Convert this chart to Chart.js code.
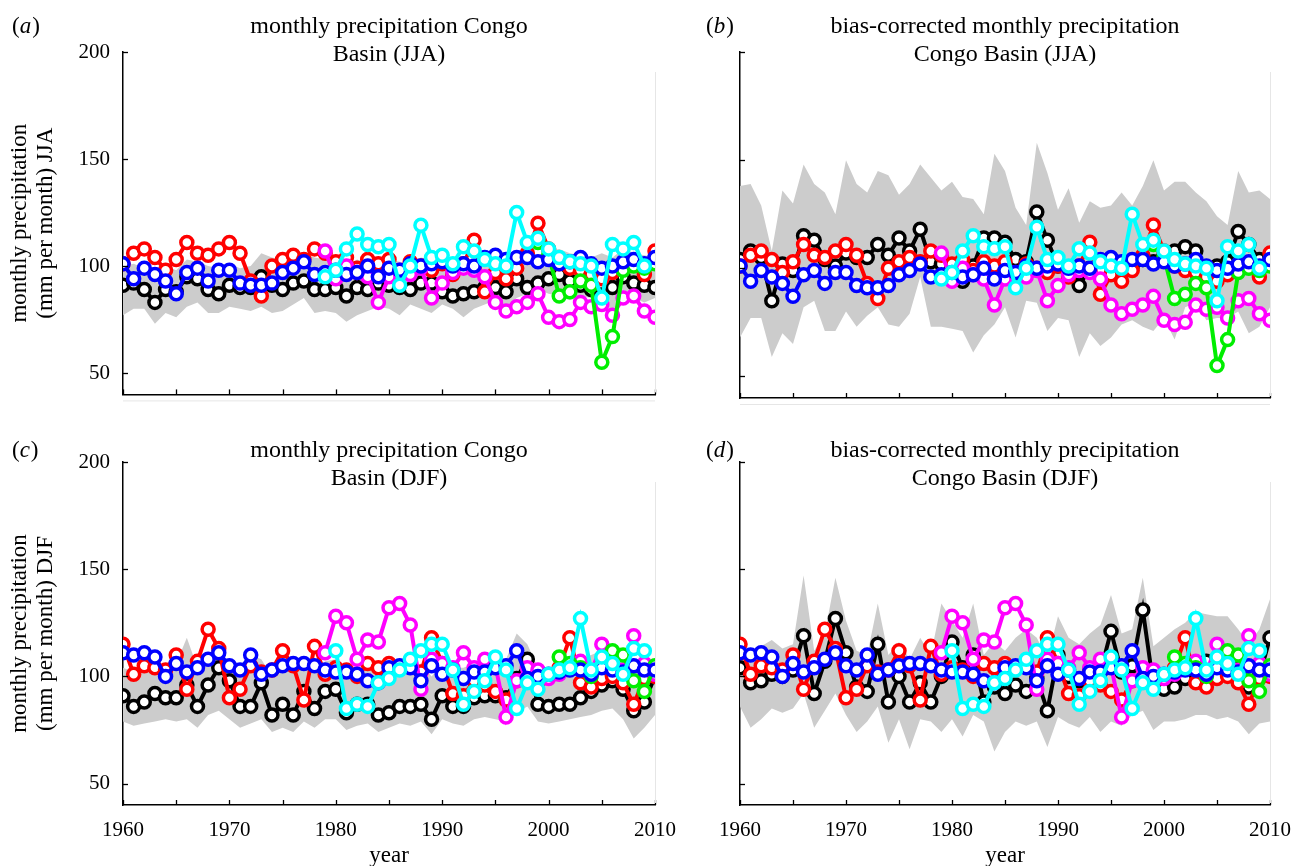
<!DOCTYPE html>
<html>
<head>
<meta charset="utf-8">
<script src="https://cdn.jsdelivr.net/npm/chart.js@4.4.1/dist/chart.umd.min.js"></script>
<style>
  body { margin: 0; background: #fff; width: 1295px; height: 866px; position: relative; overflow: hidden; }
  canvas { position: absolute; }
</style>
</head>
<body>
<canvas id="pa" width="690" height="420" style="left:0;top:0"></canvas>
<canvas id="pb" width="625" height="420" style="left:690px;top:0"></canvas>
<canvas id="pc" width="690" height="446" style="left:0;top:420px"></canvas>
<canvas id="pd" width="625" height="446" style="left:690px;top:420px"></canvas>
<script>
const years = [1960,1961,1962,1963,1964,1965,1966,1967,1968,1969,1970,1971,1972,1973,1974,1975,1976,1977,1978,1979,
  1980,1981,1982,1983,1984,1985,1986,1987,1988,1989,1990,1991,1992,1993,1994,1995,1996,1997,1998,1999,
  2000,2001,2002,2003,2004,2005,2006,2007,2008,2009,2010];
const xLabels = [1960, 1970, 1980, 1990, 2000, 2010];
const xMarks = [1960,1965,1970,1975,1980,1985,1990,1995,2000,2005,2010];
const yTicks = [50, 100, 150, 200];
const _ = null;

// observations, JJA (same in a and b)
const redJJA = [101,106,108,104,98,103,111,106,105,108, 111,106,93,86,100,103,105,103,108,106, 102,104,99,103,101,103,97,102,100,98, 101,96,101,112,88,97,94,99,106,120, 108,101,99,98,96,94,97,99,101,96, 107];
const blueJJA = [101,94,99,96,93,87,97,99,93,98, 98,92,91,91,92,97,99,102,96,97, 98,96,97,100,95,99,98,101,100,101, 102,100,101,100,104,105,103,104,104,102, 103,101,102,104,101,99,100,102,103,101, 104];
const magentaJJA = [_,_,_,_,_,_,_,_,_,_, _,_,_,_,_,_,_,_,_,107, 94,100,97,95,83,95,98,96,99,85, 92,97,99,98,95,83,79,81,83,87, 76,74,75,83,81,82,77,85,86,79, 76];
const cyanJJA = [_,_,_,_,_,_,_,_,_,_, _,_,_,_,_,_,_,_,_,95, 98,108,115,110,109,110,91,100,119,104, 105,101,109,107,103,101,100,125,111,113, 108,104,102,101,100,85,110,108,111,100, _];
const greenJJA = [_,_,_,_,_,_,_,_,_,_, _,_,_,_,_,_,_,_,_,_, _,_,_,_,_,_,_,_,_,_, _,_,_,_,_,_,_,_,_,111, 105,86,88,93,91,55,67,98,100,99, 101];

// model mean and spread, JJA
const blackA = [91,92,89,83,89,88,95,94,89,87, 91,90,90,95,91,89,92,93,89,89, 90,86,90,89,92,91,90,89,92,92, 88,86,87,88,90,90,88,94,90,92, 94,96,93,91,89,92,90,95,92,91, 90];
const lowA = [77,80,80,73,78,76,81,83,78,78, 81,80,79,81,78,79,82,85,78,79, 78,74,77,79,81,80,77,82,80,78, 82,80,76,80,82,84,80,85,87,89, 87,86,84,86,85,81,80,83,85,83, 85];
const highA = [100,101,99,97,100,98,103,102,100,99, 101,99,100,106,104,103,105,106,104,103, 102,100,103,101,104,103,102,101,104,103, 101,100,102,101,103,104,102,106,104,105, 107,108,106,105,104,106,104,108,106,105, 104];
const blackB = [104,108,105,85,102,99,115,113,104,101, 107,105,105,111,106,114,108,118,103,102, 101,94,101,114,114,112,104,103,126,113, 101,100,92,100,99,104,102,101,104,103, 106,108,110,108,100,101,103,117,111,104, 105];
const lowB = [68,77,77,59,70,65,82,85,71,71, 80,73,78,82,74,73,79,96,73,73, 72,71,61,69,74,82,68,85,84,71, 77,76,59,70,64,68,74,76,73,71, 77,67,82,84,76,77,77,80,70,73, 82];
const highB = [138,139,129,108,136,130,148,139,135,125, 150,139,135,145,143,134,139,148,142,136, 140,133,132,125,153,145,128,120,158,144, 127,137,121,131,128,129,135,129,138,150, 136,140,140,135,131,124,120,145,135,136, 132];

// observations, DJF (same in c and d)
const redDJF = [115,101,105,104,103,110,94,107,122,113, 90,94,105,102,103,112,105,89,114,101, 104,103,100,106,104,106,104,106,102,118, 106,92,91,98,96,93,89,98,99,97, 100,104,118,97,95,99,100,97,87,99, 100];
const blueDJF = [111,110,111,109,100,106,102,104,108,111, 105,103,110,101,103,105,106,106,105,103, 102,102,101,98,97,104,105,104,98,105, 101,103,99,102,102,104,105,112,99,100, 101,102,103,103,101,104,103,102,105,103, 103];
const magentaDJF = [_,_,_,_,_,_,_,_,_,_, _,_,_,_,_,_,_,_,_,111, 128,125,108,117,116,132,134,124,94,108, 106,104,111,104,108,105,81,98,104,103, 99,101,104,107,102,115,106,103,119,106, 101];
const cyanDJF = [_,_,_,_,_,_,_,_,_,_, _,_,_,_,_,_,_,_,_,_, 112,85,87,86,97,99,103,108,112,115, 115,103,87,93,98,109,103,85,97,94, 101,103,104,127,103,109,106,101,113,112, _];
const greenDJF = [_,_,_,_,_,_,_,_,_,_, _,_,_,_,_,_,_,_,_,_, _,_,_,_,_,_,_,_,_,_, _,_,_,_,_,_,_,_,_,_, _,109,106,104,100,105,112,110,98,93, 105];

// model mean and spread, DJF
const blackC = [91,86,88,92,90,90,96,86,96,104, 98,86,86,97,82,87,82,93,85,93, 94,83,87,87,82,83,86,86,87,80, 91,86,86,90,91,91,90,99,108,87, 86,87,87,90,93,96,98,94,84,88, 100];
const lowC = [79,77,78,79,80,79,80,76,82,84, 80,76,78,80,74,76,74,79,76,80, 80,75,77,78,74,76,78,77,79,73, 80,78,77,80,81,80,79,83,86,79, 78,79,80,81,82,84,85,80,71,76, 82];
const highC = [104,102,104,105,104,106,118,104,108,112, 106,102,110,108,100,104,102,108,103,107, 108,101,103,104,100,102,104,103,106,100, 106,104,104,106,107,107,108,120,115,104, 103,104,106,108,110,112,112,110,104,104, 108];
const blackD = [104,97,98,101,100,103,119,92,107,127, 111,95,93,115,88,100,88,97,88,100, 116,104,110,88,95,92,96,93,99,84, 110,100,98,103,102,121,102,105,131,96, 94,95,99,102,107,108,111,104,95,100, 118];
const lowD = [86,76,80,85,83,85,92,76,84,92, 82,74,79,86,69,80,66,80,79,74, 80,72,82,79,65,74,79,77,79,67, 81,78,76,81,74,79,77,82,84,75, 79,79,80,82,82,80,81,79,73,78, 79];
const highD = [108,112,114,117,113,115,147,112,120,146, 126,112,110,134,110,116,108,118,110,134, 126,118,134,110,116,112,118,122,118,108, 128,118,115,120,124,138,120,122,146,114, 118,122,125,130,129,128,128,122,115,122, 136];

const FONT = '"Liberation Serif", "Times New Roman", serif';
Chart.defaults.font.family = FONT;

function pts(vals) {
  return years.map((yr, i) => ({ x: yr, y: vals[i] })).filter(p => p.y !== null);
}

function series(vals, color, order) {
  return {
    data: pts(vals), borderColor: color, borderWidth: 4, tension: 0, fill: false,
    pointRadius: 6, pointBorderWidth: 3.5, pointBorderColor: color, pointBackgroundColor: '#fff',
    order: order
  };
}

function band(vals, fill) {
  return {
    data: pts(vals), borderColor: 'rgba(0,0,0,0)', borderWidth: 0, pointRadius: 0,
    backgroundColor: '#cccccc', fill: fill, tension: 0, order: fill ? 19 : 20
  };
}

const panelText = {
  id: 'panelText',
  afterDraw(chart) {
    const o = chart.options.plugins.panelText;
    const ctx = chart.ctx, a = chart.chartArea;
    const xs = chart.scales.x, ys = chart.scales.y;
    ctx.save();
    // inward tick marks
    ctx.strokeStyle = '#000';
    ctx.lineWidth = 1.3;
    xMarks.forEach(v => {
      const px = Math.round(xs.getPixelForValue(v)) + 0.5;
      ctx.beginPath(); ctx.moveTo(px, a.bottom); ctx.lineTo(px, a.bottom - 5); ctx.stroke();
    });
    yTicks.forEach(v => {
      const py = Math.round(ys.getPixelForValue(v)) + 0.5;
      ctx.beginPath(); ctx.moveTo(a.left, py); ctx.lineTo(a.left + 5, py); ctx.stroke();
    });
    // faint frame remnants
    ctx.strokeStyle = '#e6e6e6';
    ctx.lineWidth = 1;
    ctx.beginPath(); ctx.moveTo(a.right + 0.5, a.top + 20); ctx.lineTo(a.right + 0.5, a.bottom - 2); ctx.stroke();
    if (o.faintBottom) {
      ctx.beginPath(); ctx.moveTo(a.left, a.bottom + 6.5); ctx.lineTo(a.right, a.bottom + 6.5); ctx.stroke();
    }
    // panel letter
    ctx.fillStyle = '#000';
    ctx.textBaseline = 'middle';
    ctx.textAlign = 'left';
    let x = o.labelX;
    ctx.font = '23px ' + FONT;
    ctx.fillText('(', x, o.labelY); x += ctx.measureText('(').width;
    ctx.font = 'italic 23px ' + FONT;
    ctx.fillText(o.letter, x, o.labelY); x += ctx.measureText(o.letter).width + 1;
    ctx.font = '23px ' + FONT;
    ctx.fillText(')', x, o.labelY);
    // title
    ctx.textAlign = 'center';
    ctx.font = '24px ' + FONT;
    const cx = (a.left + a.right) / 2;
    o.title.forEach((t, i) => ctx.fillText(t, cx, o.titleY + i * 28));
    // axis titles
    ctx.font = '23px ' + FONT;
    if (o.yTitle) {
      ctx.save();
      ctx.translate(0, (a.top + a.bottom) / 2);
      ctx.rotate(-Math.PI / 2);
      o.yTitle.forEach((t, i) => ctx.fillText(t, 0, 20 + i * 26));
      ctx.restore();
    }
    if (o.xTitle) ctx.fillText(o.xTitle, cx, o.xTitleY);
    ctx.restore();
  }
};

function makePanel(id, p) {
  new Chart(document.getElementById(id), {
    type: 'line',
    data: {
      datasets: [
        band(p.low, false),
        band(p.high, '-1'),
        series(p.black, '#000000', 9),
        series(p.red, '#ff0000', 8),
        series(p.magenta, '#ff00ff', 7),
        series(p.green, '#00ee00', 6),
        series(p.blue, '#0000ff', 5),
        series(p.cyan, '#00ffff', 4)
      ]
    },
    options: {
      responsive: false,
      animation: false,
      devicePixelRatio: 1,
      layout: { padding: { top: p.top, right: p.right, left: 0, bottom: 0 } },
      plugins: {
        legend: { display: false },
        tooltip: { enabled: false },
        panelText: p.text
      },
      scales: {
        x: {
          type: 'linear', min: 1960, max: 2010,
          grid: { display: false, drawTicks: false },
          border: { display: true, color: '#000', width: 1.5 },
          ticks: { display: p.xLabels, color: '#000', font: { size: 21 }, padding: 13, maxRotation: 0,
                   callback: v => String(v) },
          afterBuildTicks: s => { s.ticks = xLabels.map(v => ({ value: v })); },
          afterFit: s => { s.height = p.xh; }
        },
        y: {
          min: 40, max: 200,
          grid: { display: false, drawTicks: false },
          border: { display: true, color: '#000', width: 1.5 },
          ticks: { display: p.yLabels, color: '#000', font: { size: 21 }, padding: 13 },
          afterBuildTicks: s => { s.ticks = yTicks.map(v => ({ value: v })); },
          afterFit: s => { s.width = p.yw; }
        }
      }
    },
    plugins: [panelText]
  });
}

makePanel('pa', {
  low: lowA, high: highA, black: blackA, red: redJJA, magenta: magentaJJA, green: greenJJA, blue: blueJJA, cyan: cyanJJA,
  top: 52, right: 35, xh: 22, yw: 123, xLabels: false, yLabels: true,
  text: { letter: 'a', labelX: 12, labelY: 27, title: ['monthly precipitation Congo', 'Basin (JJA)'], titleY: 27,
          yTitle: ['monthly precipitation', '(mm per month) JJA'], faintBottom: true }
});
makePanel('pb', {
  low: lowB, high: highB, black: blackB, red: redJJA, magenta: magentaJJA, green: greenJJA, blue: blueJJA, cyan: cyanJJA,
  top: 52, right: 45, xh: 22, yw: 50, xLabels: false, yLabels: false,
  text: { letter: 'b', labelX: 16, labelY: 27, title: ['bias-corrected monthly precipitation', 'Congo Basin (JJA)'], titleY: 27,
          faintBottom: true }
});
makePanel('pc', {
  low: lowC, high: highC, black: blackC, red: redDJF, magenta: magentaDJF, green: greenDJF, blue: blueDJF, cyan: cyanDJF,
  top: 42, right: 35, xh: 61, yw: 123, xLabels: true, yLabels: true,
  text: { letter: 'c', labelX: 12, labelY: 31, title: ['monthly precipitation Congo', 'Basin (DJF)'], titleY: 31,
          yTitle: ['monthly precipitation', '(mm per month) DJF'], xTitle: 'year', xTitleY: 436 }
});
makePanel('pd', {
  low: lowD, high: highD, black: blackD, red: redDJF, magenta: magentaDJF, green: greenDJF, blue: blueDJF, cyan: cyanDJF,
  top: 42, right: 45, xh: 61, yw: 50, xLabels: true, yLabels: false,
  text: { letter: 'd', labelX: 16, labelY: 31, title: ['bias-corrected monthly precipitation', 'Congo Basin (DJF)'], titleY: 31,
          xTitle: 'year', xTitleY: 436 }
});
</script>
</body>
</html>
